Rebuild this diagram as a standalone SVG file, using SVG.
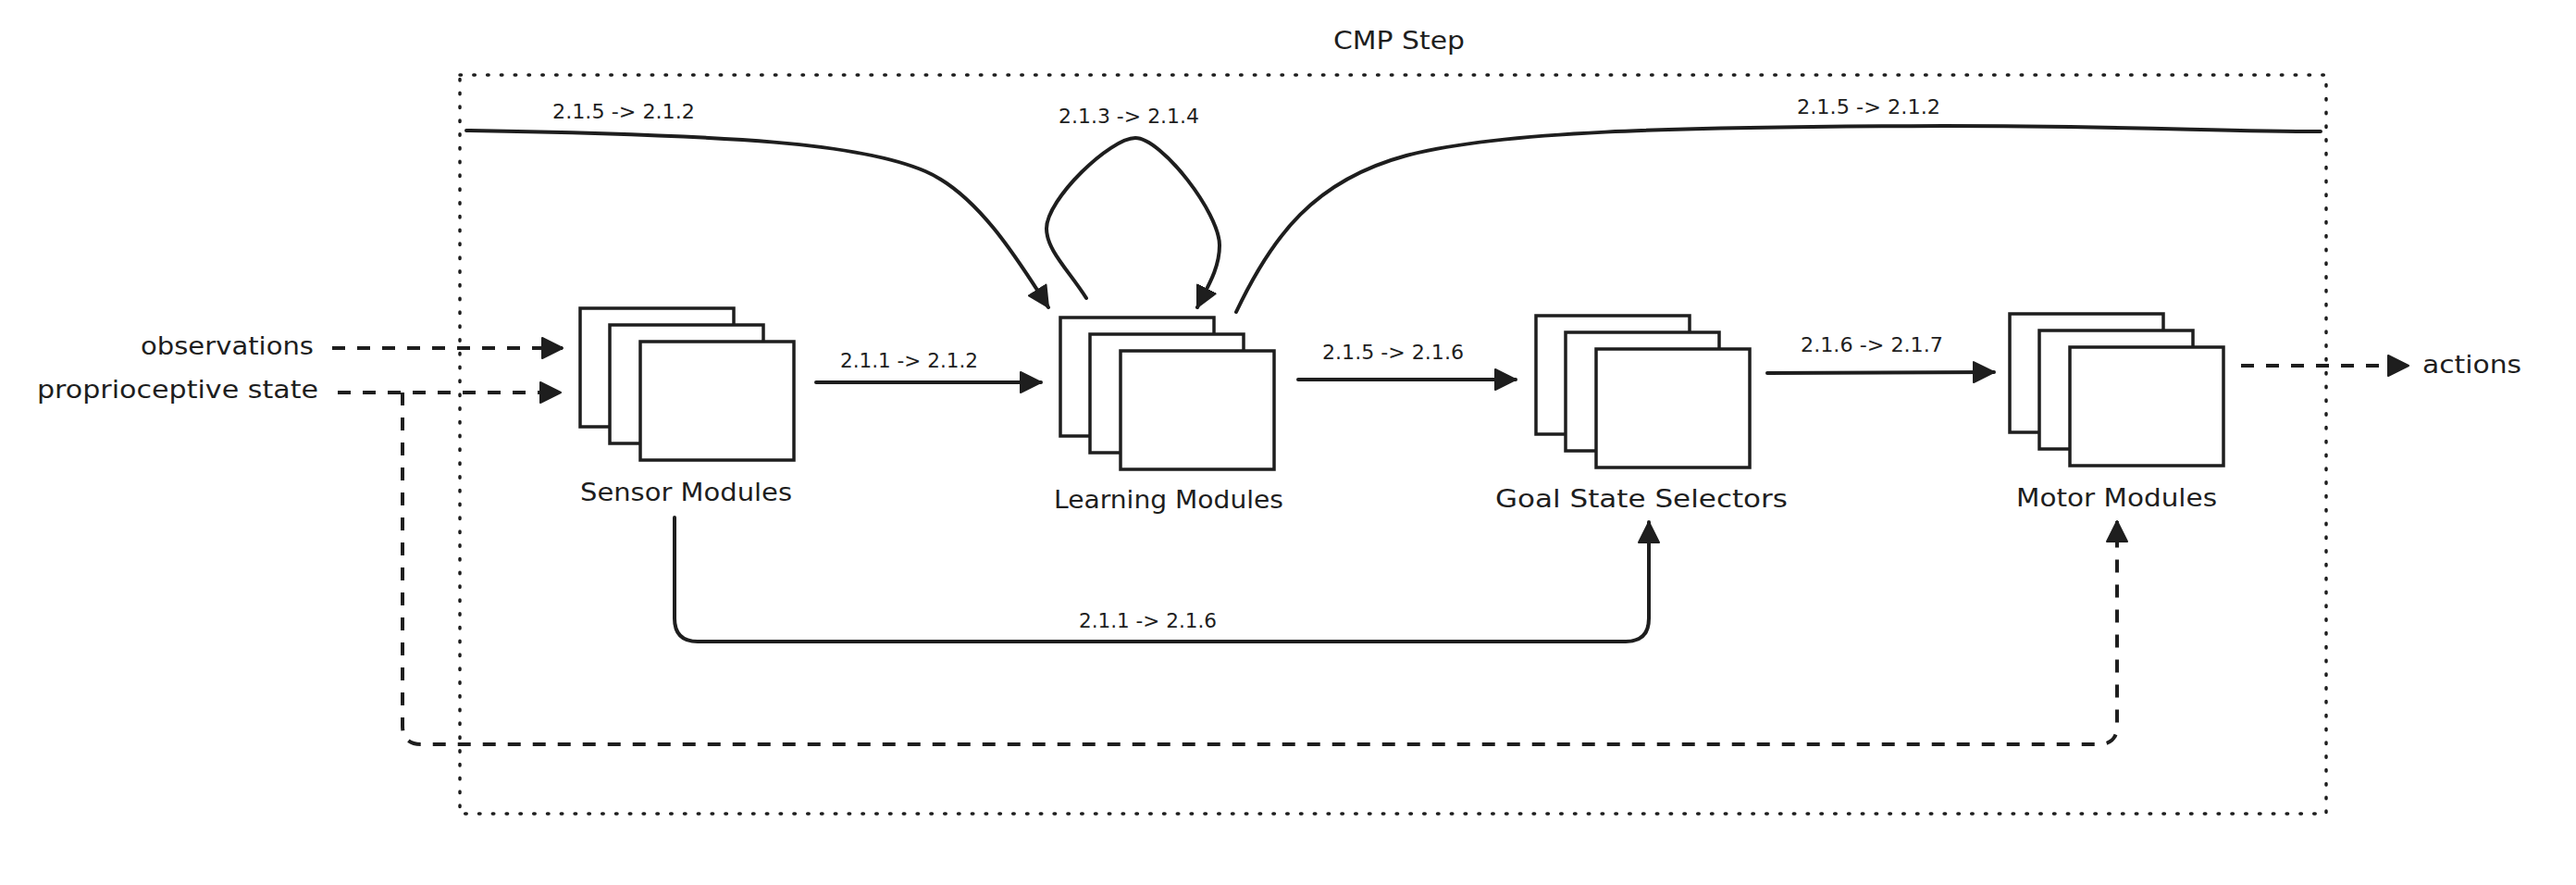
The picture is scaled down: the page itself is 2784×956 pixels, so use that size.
<svg xmlns="http://www.w3.org/2000/svg" width="2784" height="956" viewBox="0 0 2784 956">
<style>
  .bg { fill: #ffffff; }
  .frame { fill: none; stroke: #1e1e1e; stroke-width: 3.5; stroke-dasharray: 1.5 13.3; stroke-linecap: round; }
  .card { fill: #ffffff; stroke: #1e1e1e; stroke-width: 3.5; }
  .edge { fill: none; stroke: #1e1e1e; stroke-width: 4; stroke-linecap: round; }
  .dash { fill: none; stroke: #1e1e1e; stroke-width: 4; stroke-dasharray: 14 13; }
  .lbl { font-family: "DejaVu Sans", "Liberation Sans", sans-serif; fill: #1e1e1e; }
  .edge-lbl { font-size: 22px; }
  .node-lbl { font-size: 26px; }
  .io-lbl { font-size: 26px; }
  .title { font-size: 27px; }
</style>
<defs>
  <marker id="arrow" viewBox="0 0 24 24" markerWidth="24" markerHeight="24" refX="23" refY="12" orient="auto" markerUnits="userSpaceOnUse">
    <path d="M1,1 L23,12 L1,23 Z" fill="#1e1e1e" stroke="#1e1e1e" stroke-width="2" stroke-linejoin="round"/>
  </marker>
  <g id="stack">
    <rect class="card" x="0" y="0" width="166" height="128"/>
    <rect class="card" x="32" y="18" width="166" height="128"/>
    <rect class="card" x="65" y="36" width="166" height="128"/>
  </g>
</defs>
<rect class="bg" x="0" y="0" width="2784" height="956"/>

<g id="cmp-step">
  <rect class="frame" x="497" y="81" width="2017" height="798"/>
  <text class="lbl title" x="1441" y="53" textLength="142" lengthAdjust="spacingAndGlyphs">CMP Step</text>
</g>

<g id="connectors">
  <path class="edge" d="M504,141 C800,146 930,155 1000,185 C1056,209 1100,280 1133,332" marker-end="url(#arrow)"/>
  <path class="edge" d="M1174,322 C1155,292 1131,270 1131,247 C1131,215 1200,149 1227,149 C1255,149 1318,230 1318,265 C1318,290 1305,310 1294,332" marker-end="url(#arrow)"/>
  <path class="edge" d="M1336,337 C1375,255 1420,195 1520,168 C1620,142 1800,137 2100,136 C2300,136 2400,142 2508,142"/>
  <path class="edge" d="M882,413 L1125,413" marker-end="url(#arrow)"/>
  <path class="edge" d="M1403,410 L1638,410" marker-end="url(#arrow)"/>
  <path class="edge" d="M1910,403 L2155,402" marker-end="url(#arrow)"/>
  <path class="edge" d="M729,559 L729,668 Q729,693 754,693 L1757,693 Q1782,693 1782,668 L1782,564" marker-end="url(#arrow)"/>
  <path class="dash" d="M359,376 L608,376" marker-end="url(#arrow)"/>
  <path class="dash" d="M365,424 L606,424" marker-end="url(#arrow)"/>
  <path class="dash" d="M435,424 L435,784 Q435,804 455,804 L2268,804 Q2288,804 2288,784 L2288,563" marker-end="url(#arrow)"/>
  <path class="dash" d="M2422,395 L2603,395" marker-end="url(#arrow)"/>

  <text class="lbl edge-lbl" x="597" y="128" textLength="154" lengthAdjust="spacingAndGlyphs">2.1.5 -&gt; 2.1.2</text>
  <text class="lbl edge-lbl" x="1144" y="133" textLength="152" lengthAdjust="spacingAndGlyphs">2.1.3 -&gt; 2.1.4</text>
  <text class="lbl edge-lbl" x="1942" y="123" textLength="155" lengthAdjust="spacingAndGlyphs">2.1.5 -&gt; 2.1.2</text>
  <text class="lbl edge-lbl" x="908" y="397" textLength="149" lengthAdjust="spacingAndGlyphs">2.1.1 -&gt; 2.1.2</text>
  <text class="lbl edge-lbl" x="1429" y="388" textLength="153" lengthAdjust="spacingAndGlyphs">2.1.5 -&gt; 2.1.6</text>
  <text class="lbl edge-lbl" x="1946" y="380" textLength="154" lengthAdjust="spacingAndGlyphs">2.1.6 -&gt; 2.1.7</text>
  <text class="lbl edge-lbl" x="1166" y="678" textLength="149" lengthAdjust="spacingAndGlyphs">2.1.1 -&gt; 2.1.6</text>
</g>

<g id="observations">
  <text class="lbl io-lbl" x="152" y="383" textLength="187" lengthAdjust="spacingAndGlyphs">observations</text>
</g>
<g id="proprioceptive-state">
  <text class="lbl io-lbl" x="40" y="430" textLength="304" lengthAdjust="spacingAndGlyphs">proprioceptive state</text>
</g>
<g id="actions">
  <text class="lbl io-lbl" x="2618" y="403" textLength="107" lengthAdjust="spacingAndGlyphs">actions</text>
</g>

<g id="sensor-modules">
  <use href="#stack" x="627" y="333"/>
  <text class="lbl node-lbl" x="627" y="541" textLength="229" lengthAdjust="spacingAndGlyphs">Sensor Modules</text>
</g>
<g id="learning-modules">
  <use href="#stack" x="1146" y="343"/>
  <text class="lbl node-lbl" x="1139" y="549" textLength="248" lengthAdjust="spacingAndGlyphs">Learning Modules</text>
</g>
<g id="goal-state-selectors">
  <use href="#stack" x="1660" y="341"/>
  <text class="lbl node-lbl" x="1616" y="548" textLength="316" lengthAdjust="spacingAndGlyphs">Goal State Selectors</text>
</g>
<g id="motor-modules">
  <use href="#stack" x="2172" y="339"/>
  <text class="lbl node-lbl" x="2179" y="547" textLength="217" lengthAdjust="spacingAndGlyphs">Motor Modules</text>
</g>
</svg>
